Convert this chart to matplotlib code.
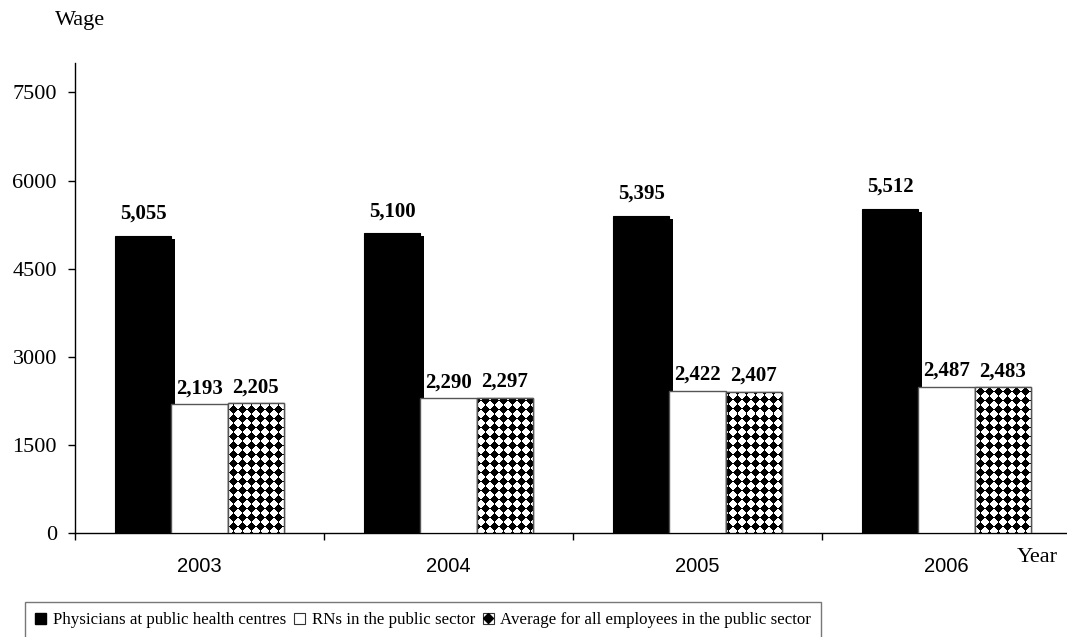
import numpy as np
import matplotlib
matplotlib.use("Agg")
import matplotlib.pyplot as plt
from matplotlib.patches import Patch
from matplotlib.lines import Line2D
from matplotlib.legend_handler import HandlerTuple
import matplotlib.patheffects as pe

years = ['2003', '2004', '2005', '2006']
physicians = [5055, 5100, 5395, 5512]
rns = [2193, 2290, 2422, 2487]
average = [2205, 2297, 2407, 2483]
series_names = ['Physicians at public health centres',
                'RNs in the public sector',
                'Average for all employees in the public sector']
yticks = [0, 1500, 3000, 4500, 6000, 7500]

SERIF = ['Liberation Serif', 'DejaVu Serif']
SANS = ['Liberation Sans', 'DejaVu Sans']

W, H = 1067, 637
fig = plt.figure(figsize=(W / 100, H / 100), dpi=100)
ax = fig.add_axes([75 / W, (H - 533) / H, (1071 - 75) / W, (533 - 63) / H])

x = np.arange(len(years))
bw = 0.225
ax.set_xlim(-0.5, len(years) - 0.5)
ax.set_ylim(0, 8000)

# black bars with slight shadow
b1 = ax.bar(x - bw, physicians, bw, color='black', edgecolor='black',
            linewidth=0.8, zorder=3)
for p in b1:
    p.set_path_effects([pe.SimplePatchShadow(offset=(2.2, -2.2), shadow_rgbFace='black', alpha=1.0),
                        pe.Normal()])
b2 = ax.bar(x, rns, bw, color='white', edgecolor='#555555', linewidth=1.0, zorder=3)
b3 = ax.bar(x + bw, average, bw, color='white', edgecolor='#555555', linewidth=1.0, zorder=3)

# diamond pattern fill for the third series
ny, nx = 470, 996
yy, xx = np.indices((ny, nx))
period = 9.0
dx = np.abs((xx % period) - period / 2 + 0.5)
dy = np.abs((yy % period) - period / 2 + 0.5)
pattern = ((dx + dy) <= 4.0).astype(float)
for p in b3:
    im = ax.imshow(1 - pattern, cmap='gray', vmin=0, vmax=1, extent=(-0.5, len(years) - 0.5, 0, 8000),
                   aspect='auto', interpolation='nearest', zorder=3.5, origin='upper')
    im.set_clip_path(p)
ax.bar(x + bw, average, bw, fill=False, edgecolor='#555555', linewidth=1.0, zorder=4)
ax.set_xlim(-0.5, len(years) - 0.5)
ax.set_ylim(0, 8000)

# value labels
for xi, v in zip(x - bw, physicians):
    ax.annotate(f'{v:,}', (xi, v), xytext=(0, 16), textcoords='offset points',
                ha='center', va='center', fontsize=15, fontweight='bold', family=SERIF)
for xi, v in zip(x, rns):
    ax.annotate(f'{v:,}', (xi, v), xytext=(0, 11.5), textcoords='offset points',
                ha='center', va='center', fontsize=15, fontweight='bold', family=SERIF)
for xi, v in zip(x + bw, average):
    ax.annotate(f'{v:,}', (xi, v), xytext=(0, 11.5), textcoords='offset points',
                ha='center', va='center', fontsize=15, fontweight='bold', family=SERIF)

# axes styling
for s in ['top', 'right']:
    ax.spines[s].set_visible(False)
ax.spines['left'].set_linewidth(1.0)
ax.spines['bottom'].set_linewidth(1.0)
ax.set_yticks(yticks)
ax.set_yticklabels([str(t) for t in yticks], family=SERIF, fontsize=16)
ax.tick_params(axis='y', direction='out', length=5, width=1, pad=8)
ax.set_xticks(np.arange(len(years) + 1) - 0.5)
ax.set_xticklabels([])
ax.tick_params(axis='x', which='major', direction='out', length=5, width=1)
ax.set_xticks(x, minor=True)
ax.set_xticklabels(years, minor=True, family=SANS, fontsize=14.5)
ax.tick_params(axis='x', which='minor', length=0, pad=17)

fig.text(80 / W, 1 - 20 / H, 'Wage', ha='center', va='center', fontsize=16, family=SERIF)
fig.text(1037 / W, 1 - 557 / H, 'Year', ha='center', va='center', fontsize=16, family=SERIF)

# legend
h1 = Patch(facecolor='black', edgecolor='black')
h2 = Patch(facecolor='white', edgecolor='#333333', linewidth=0.8)
h3 = (Patch(facecolor='white', edgecolor='#333333', linewidth=0.8),
      Line2D([], [], marker='D', color='black', linestyle='none', markersize=5))
leg = fig.legend([h1, h2, h3], series_names, loc='upper left',
                 bbox_to_anchor=(25 / W, 1 - 602 / H), ncol=3, frameon=True, fancybox=False,
                 handlelength=0.65, handleheight=0.65, handletextpad=0.4, columnspacing=0.45,
                 borderpad=0.6, borderaxespad=0, prop={'family': SERIF, 'size': 12.2},
                 handler_map={tuple: HandlerTuple(ndivide=1, pad=0)})
leg.get_frame().set_edgecolor('#555555')
leg.get_frame().set_linewidth(1.0)

fig.savefig('out.png', dpi=100)
